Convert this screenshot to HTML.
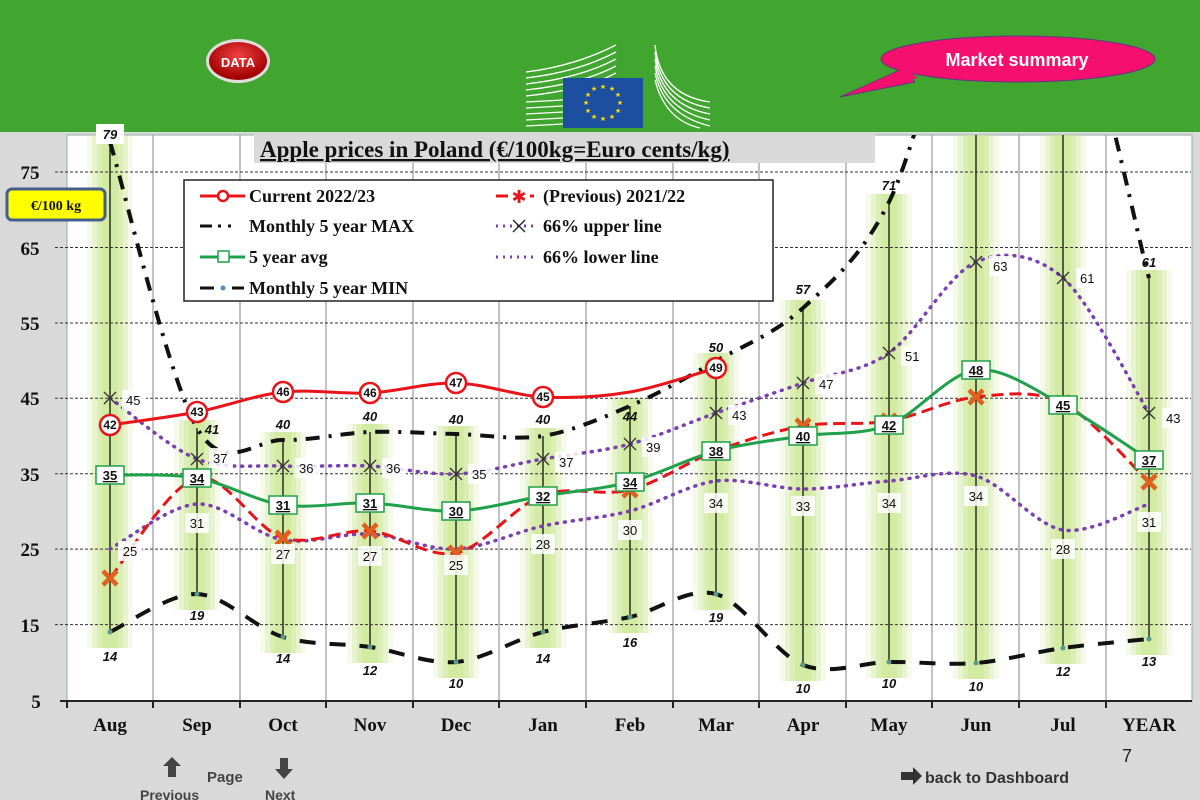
<!DOCTYPE html>
<html><head><meta charset="utf-8"><style>
body{margin:0;width:1200px;height:800px;overflow:hidden;background:#d9d9d9;font-family:"Liberation Serif",serif}
svg{display:block}
.ax{font:bold 19px "Liberation Serif",serif;fill:#111}
.mx{font:italic bold 13px "Liberation Sans",sans-serif;fill:#111}
.pl{font:13px "Liberation Sans",sans-serif;fill:#111}
.lg{font:bold 18px "Liberation Serif",serif;fill:#111}
</style></head><body>
<svg width="1200" height="800" viewBox="0 0 1200 800">
<defs>
<radialGradient id="rb" cx="0.5" cy="0.35" r="0.6"><stop offset="0" stop-color="#f04040"/><stop offset="1" stop-color="#a00000"/></radialGradient>
<clipPath id="pc"><rect x="67" y="135" width="1125" height="566"/></clipPath>
</defs>
<rect x="0" y="0" width="1200" height="132" fill="#41a62f"/>
<rect x="0" y="132" width="1200" height="668" fill="#d9d9d9"/>
<rect x="67" y="135" width="1125" height="566" fill="#fff" stroke="#9aa" stroke-width="1"/>
<ellipse cx="238" cy="61" rx="32" ry="22" fill="#ddd" />
<ellipse cx="238" cy="61" rx="29" ry="19" fill="url(#rb)"/>
<text x="238" y="67" text-anchor="middle" font-family="Liberation Sans" font-weight="bold" font-size="13" fill="#fff">DATA</text>
<g stroke="#fff" stroke-width="1.3" fill="none">
<path d="M526 72 Q575 66 616 45 M526 78 Q578 72 616 52 M526 84 Q580 78 616 59 M526 90 Q582 84 616 66 M526 96 Q584 90 616 73 M526 102 L563 100 M526 108 L563 106 M526 114 L563 112 M526 120 L563 118 M526 126 L563 124"/>
<path d="M655 45 Q660 95 710 102 M655 52 Q661 100 710 108 M655 59 Q662 105 710 114 M655 66 Q663 110 710 120 M655 73 Q664 115 710 126 M655 80 Q665 120 700 128"/>
</g>
<rect x="563" y="78" width="80" height="50" fill="#1d4fa0"/>
<g fill="#ffdd00" font-size="7" text-anchor="middle" font-family="DejaVu Sans">
<text x="603" y="89">★</text><text x="612" y="91">★</text><text x="618" y="97">★</text><text x="620" y="105">★</text><text x="618" y="113">★</text><text x="612" y="119">★</text><text x="603" y="121">★</text><text x="594" y="119">★</text><text x="588" y="113">★</text><text x="586" y="105">★</text><text x="588" y="97">★</text><text x="594" y="91">★</text></g>
<path d="M840 97 L915 82 L900 70 Z" fill="#f50f6e" stroke="#5a3a80" stroke-width="1"/>
<ellipse cx="1018" cy="59" rx="137" ry="23" fill="#f50f6e" stroke="#5a3a80" stroke-width="1"/>
<path d="M845 95 L918 78 L905 68 Z" fill="#f50f6e"/>
<text x="1017" y="66" text-anchor="middle" font-family="Liberation Sans" font-weight="bold" font-size="18" fill="#fff">Market summary</text>
<g stroke="#999" stroke-width="1.2">
<line x1="153" y1="135" x2="153" y2="700"/><line x1="240" y1="135" x2="240" y2="700"/><line x1="326" y1="135" x2="326" y2="700"/><line x1="413" y1="135" x2="413" y2="700"/><line x1="499" y1="135" x2="499" y2="700"/><line x1="586" y1="135" x2="586" y2="700"/><line x1="673" y1="135" x2="673" y2="700"/><line x1="759" y1="135" x2="759" y2="700"/><line x1="846" y1="135" x2="846" y2="700"/><line x1="932" y1="135" x2="932" y2="700"/><line x1="1019" y1="135" x2="1019" y2="700"/><line x1="1106" y1="135" x2="1106" y2="700"/></g>
<g id="bars" clip-path="url(#pc)"></g>
<g stroke="#333" stroke-width="1" stroke-dasharray="3,2">
<line x1="55" y1="172" x2="1191" y2="172"/><line x1="55" y1="247.5" x2="1191" y2="247.5"/><line x1="55" y1="323" x2="1191" y2="323"/><line x1="55" y1="398.3" x2="1191" y2="398.3"/><line x1="55" y1="473.7" x2="1191" y2="473.7"/><line x1="55" y1="549.1" x2="1191" y2="549.1"/><line x1="55" y1="624.6" x2="1191" y2="624.6"/></g>
<line x1="60" y1="701" x2="1192" y2="701" stroke="#222" stroke-width="2"/>
<g stroke="#222" stroke-width="2"><line x1="67" y1="701" x2="67" y2="708"/><line x1="153" y1="701" x2="153" y2="708"/><line x1="240" y1="701" x2="240" y2="708"/><line x1="326" y1="701" x2="326" y2="708"/><line x1="413" y1="701" x2="413" y2="708"/><line x1="499" y1="701" x2="499" y2="708"/><line x1="586" y1="701" x2="586" y2="708"/><line x1="673" y1="701" x2="673" y2="708"/><line x1="759" y1="701" x2="759" y2="708"/><line x1="846" y1="701" x2="846" y2="708"/><line x1="932" y1="701" x2="932" y2="708"/><line x1="1019" y1="701" x2="1019" y2="708"/><line x1="1106" y1="701" x2="1106" y2="708"/></g>
<g clip-path="url(#pc)" id="lines"></g>
<rect x="254" y="132" width="621" height="31" fill="#d9d9d9"/>
<text x="260" y="157" font-family="Liberation Serif" font-weight="bold" font-size="23" text-decoration="underline" fill="#111">Apple prices in Poland (€/100kg=Euro cents/kg)</text>
<g class="ax" text-anchor="middle">
<text x="30" y="179">75</text><text x="30" y="255">65</text><text x="30" y="330">55</text><text x="30" y="405">45</text><text x="30" y="481">35</text><text x="30" y="556">25</text><text x="30" y="632">15</text><text x="36" y="708">5</text></g>
<g class="ax" text-anchor="middle">
<text x="110" y="731">Aug</text><text x="197" y="731">Sep</text><text x="283" y="731">Oct</text><text x="370" y="731">Nov</text><text x="456" y="731">Dec</text><text x="543" y="731">Jan</text><text x="630" y="731">Feb</text><text x="716" y="731">Mar</text><text x="803" y="731">Apr</text><text x="889" y="731">May</text><text x="976" y="731">Jun</text><text x="1063" y="731">Jul</text><text x="1149" y="731">YEAR</text></g>
<rect x="7" y="189" width="98" height="31" rx="5" fill="#ffff00" stroke="#44608a" stroke-width="3"/>
<text x="56" y="210" text-anchor="middle" font-family="Liberation Serif" font-weight="bold" font-size="14" fill="#111">€/100 kg</text>
<rect x="96" y="124" width="28" height="20" fill="#fff"/>
<g class="mx" text-anchor="middle">
<text x="110" y="139">79</text><text x="212" y="434">41</text><text x="283" y="429">40</text><text x="370" y="421">40</text><text x="456" y="424">40</text><text x="543" y="424">40</text><text x="630" y="421">44</text><text x="716" y="352">50</text><text x="803" y="294">57</text><text x="889" y="190">71</text><text x="1149" y="267">61</text>
<text x="110" y="661">14</text><text x="197" y="620">19</text><text x="283" y="663">14</text><text x="370" y="675">12</text><text x="456" y="688">10</text><text x="543" y="663">14</text><text x="630" y="647">16</text><text x="716" y="622">19</text><text x="803" y="693">10</text><text x="889" y="688">10</text><text x="976" y="691">10</text><text x="1063" y="676">12</text><text x="1149" y="666">13</text></g>
<g fill="#fff" opacity="0.85">
<rect x="122" y="390" width="24" height="20"/><rect x="209" y="448" width="24" height="20"/><rect x="295" y="458" width="24" height="20"/><rect x="382" y="458" width="24" height="20"/><rect x="468" y="464" width="24" height="20"/><rect x="555" y="452" width="24" height="20"/><rect x="642" y="437" width="24" height="20"/><rect x="728" y="405" width="24" height="20"/><rect x="815" y="374" width="24" height="20"/><rect x="901" y="346" width="24" height="20"/><rect x="989" y="256" width="24" height="20"/><rect x="1076" y="268" width="24" height="20"/><rect x="1162" y="408" width="24" height="20"/>
<rect x="118" y="541" width="24" height="20"/><rect x="185" y="513" width="24" height="20"/><rect x="271" y="544" width="24" height="20"/><rect x="358" y="546" width="24" height="20"/><rect x="444" y="555" width="24" height="20"/><rect x="531" y="534" width="24" height="20"/><rect x="618" y="520" width="24" height="20"/><rect x="704" y="493" width="24" height="20"/><rect x="791" y="496" width="24" height="20"/><rect x="877" y="493" width="24" height="20"/><rect x="964" y="486" width="24" height="20"/><rect x="1051" y="539" width="24" height="20"/><rect x="1137" y="512" width="24" height="20"/></g>
<g class="pl" text-anchor="start">
<text x="126" y="405">45</text><text x="213" y="463">37</text><text x="299" y="473">36</text><text x="386" y="473">36</text><text x="472" y="479">35</text><text x="559" y="467">37</text><text x="646" y="452">39</text><text x="732" y="420">43</text><text x="819" y="389">47</text><text x="905" y="361">51</text><text x="993" y="271">63</text><text x="1080" y="283">61</text><text x="1166" y="423">43</text></g>
<g class="pl" text-anchor="middle">
<text x="130" y="556">25</text><text x="197" y="528">31</text><text x="283" y="559">27</text><text x="370" y="561">27</text><text x="456" y="570">25</text><text x="543" y="549">28</text><text x="630" y="535">30</text><text x="716" y="508">34</text><text x="803" y="511">33</text><text x="889" y="508">34</text><text x="976" y="501">34</text><text x="1063" y="554">28</text><text x="1149" y="527">31</text></g>
<rect x="184" y="180" width="589" height="121" fill="#fff" stroke="#222" stroke-width="1.5"/>
<g class="lg">
<text x="249" y="202">Current 2022/23</text><text x="249" y="232">Monthly 5 year MAX</text><text x="249" y="263">5 year avg</text><text x="249" y="294">Monthly 5 year MIN</text>
<text x="543" y="202">(Previous) 2021/22</text><text x="543" y="232">66% upper line</text><text x="543" y="263">66% lower line</text></g>
<line x1="200" y1="196" x2="245" y2="196" stroke="#e8141a" stroke-width="3"/><circle cx="223" cy="196" r="5" fill="#fff" stroke="#e8141a" stroke-width="2.5"/>
<path d="M200 226 h12 M218 226 h3 M228 226 h3" stroke="#111" stroke-width="3"/>
<line x1="200" y1="257" x2="245" y2="257" stroke="#1fa04a" stroke-width="3"/><rect x="218" y="251" width="11" height="11" fill="#fff" stroke="#1fa04a" stroke-width="1.5"/>
<path d="M200 288 h14 M232 288 h12" stroke="#111" stroke-width="3"/><circle cx="223" cy="288" r="2.5" fill="#4a90c0"/>
<path d="M496 196 h12 M530 196 h4" stroke="#e8141a" stroke-width="3"/><text x="519" y="203" text-anchor="middle" font-size="18" font-weight="bold" fill="#e8141a" font-family="DejaVu Sans">✱</text>
<path d="M496 226 h42" stroke="#7a3fb0" stroke-width="3" stroke-dasharray="2,5"/><path d="M513 220 l12 12 M525 220 l-12 12" stroke="#222" stroke-width="1.3"/>
<path d="M496 257 h42" stroke="#7a3fb0" stroke-width="3" stroke-dasharray="2,5"/>
<path d="M172 757 l-9 9 h5 v11 h8 v-11 h5 z" fill="#444"/>
<text x="140" y="800" font-family="Liberation Sans" font-weight="bold" font-size="14" fill="#444">Previous</text>
<text x="207" y="782" font-family="Liberation Sans" font-weight="bold" font-size="15" fill="#444">Page</text>
<path d="M280 758 h8 v11 h5 l-9 10 l-9 -10 h5 z" fill="#444"/>
<text x="265" y="800" font-family="Liberation Sans" font-weight="bold" font-size="14" fill="#444">Next</text>
<path d="M901 772 h12 v-5 l9 9 l-9 9 v-5 h-12 z" fill="#333"/>
<text x="925" y="783" font-family="Liberation Sans" font-weight="bold" font-size="16" fill="#333">back to Dashboard</text>
<text x="1122" y="762" font-family="Liberation Sans" font-size="18" fill="#222">7</text>
</svg>
<script>
var X=[110,197,283,370,456,543,630,716,803,889,976,1063,1149];
function sm(p){var d="M"+p[0][0]+" "+p[0][1];for(var i=0;i<p.length-1;i++){var a=p[i-1]||p[i],b=p[i],c=p[i+1],e=p[i+2]||c;var t=0.16;d+=" C"+(b[0]+(c[0]-a[0])*t)+" "+(b[1]+(c[1]-a[1])*t)+" "+(c[0]-(e[0]-b[0])*t)+" "+(c[1]-(e[1]-b[1])*t)+" "+c[0]+" "+c[1];}return d;}
function pts(Y){return Y.map(function(y,i){return [X[i],y]});}
var MAX=[142,428,440,432,434,436,406,361,308,202,-40,-40,278];
var MIN=[632,594,637,647,662,632,617,594,665,662,663,648,639];
var UP=[398,459,466,466,474,459,444,413,383,353,262,278,413];
var LO=[549,504,540,534,549,526,511,481,489,481,476,530,504];
var AV=[475,478,505,503,511,496,482,451,436,425,370,405,460];
var PR=[578,478,538,531,553,495,490,451,426,421,397,403,482];
var CU=[425,412,392,393,383,397,392,368];
var ns="http://www.w3.org/2000/svg";
function el(g,n,a){var e=document.createElementNS(ns,n);for(var k in a)e.setAttribute(k,a[k]);document.getElementById(g).appendChild(e);return e;}
for(var i=0;i<13;i++){var tp=Math.max(MAX[i],135);
 var ws=[[46,0.18],[36,0.3],[26,0.4],[16,0.5]];
 for(var j=0;j<ws.length;j++)el("bars","rect",{x:X[i]-ws[j][0]/2,y:tp-8,width:ws[j][0],height:MIN[i]-tp+24,fill:"#c9e68e",opacity:ws[j][1]});
 el("bars","line",{x1:X[i],y1:tp,x2:X[i],y2:MIN[i],stroke:"#111","stroke-width":1.3});}
el("lines","path",{d:sm(pts(MAX)),fill:"none",stroke:"#111","stroke-width":4,"stroke-dasharray":"14,9,3,9"});
el("lines","path",{d:sm(pts(MIN)),fill:"none",stroke:"#111","stroke-width":4,"stroke-dasharray":"16,14"});
el("lines","path",{d:sm(pts(LO)),fill:"none",stroke:"#7a3fb0","stroke-width":3.5,"stroke-dasharray":"1,7","stroke-linecap":"round"});
el("lines","path",{d:sm(pts(UP)),fill:"none",stroke:"#7a3fb0","stroke-width":3.5,"stroke-dasharray":"1,7","stroke-linecap":"round"});
el("lines","path",{d:sm(pts(PR)),fill:"none",stroke:"#e8141a","stroke-width":3,"stroke-dasharray":"12,6"});
el("lines","path",{d:sm(pts(AV)),fill:"none",stroke:"#1fa04a","stroke-width":3});
el("lines","path",{d:sm(pts(CU)),fill:"none",stroke:"#e8141a","stroke-width":3});
for(i=0;i<13;i++){el("lines","path",{d:"M"+(X[i]-6)+" "+(UP[i]-6)+"l12 12M"+(X[i]+6)+" "+(UP[i]-6)+"l-12 12",stroke:"#333","stroke-width":1.3});
if(i!==1&&i!==7)el("lines","path",{d:"M"+(X[i]-7)+" "+(PR[i]-7)+"l14 14M"+(X[i]+7)+" "+(PR[i]-7)+"l-14 14",stroke:"#e0601e","stroke-width":4.5});
el("lines","circle",{cx:X[i],cy:MIN[i],r:2.5,fill:"#5a9a8a"});}
</script>
<svg width="1200" height="800" style="position:absolute;left:0;top:0" viewBox="0 0 1200 800">
<g font-family="Liberation Sans" font-weight="bold" font-size="13" text-anchor="middle" fill="#111">
<g fill="#fff" stroke="#1fa04a" stroke-width="1.5">
<rect x="96" y="466" width="28" height="18"/><rect x="183" y="469" width="28" height="18"/><rect x="269" y="496" width="28" height="18"/><rect x="356" y="494" width="28" height="18"/><rect x="442" y="502" width="28" height="18"/><rect x="529" y="487" width="28" height="18"/><rect x="616" y="473" width="28" height="18"/><rect x="702" y="442" width="28" height="18"/><rect x="789" y="427" width="28" height="18"/><rect x="875" y="416" width="28" height="18"/><rect x="962" y="361" width="28" height="18"/><rect x="1049" y="396" width="28" height="18"/><rect x="1135" y="451" width="28" height="18"/></g>
<g text-decoration="underline">
<text x="110" y="480">35</text><text x="197" y="483">34</text><text x="283" y="510">31</text><text x="370" y="508">31</text><text x="456" y="516">30</text><text x="543" y="501">32</text><text x="630" y="487">34</text><text x="716" y="456">38</text><text x="803" y="441">40</text><text x="889" y="430">42</text><text x="976" y="375">48</text><text x="1063" y="410">45</text><text x="1149" y="465">37</text></g>
<g fill="#fff" stroke="#e8141a" stroke-width="2.5">
<circle cx="110" cy="425" r="10"/><circle cx="197" cy="412" r="10"/><circle cx="283" cy="392" r="10"/><circle cx="370" cy="393" r="10"/><circle cx="456" cy="383" r="10"/><circle cx="543" cy="397" r="10"/><circle cx="716" cy="368" r="10"/></g>
<g font-size="12">
<text x="110" y="429">42</text><text x="197" y="416">43</text><text x="283" y="396">46</text><text x="370" y="397">46</text><text x="456" y="387">47</text><text x="543" y="401">45</text><text x="716" y="372">49</text></g>
</g></svg>
</body></html>
